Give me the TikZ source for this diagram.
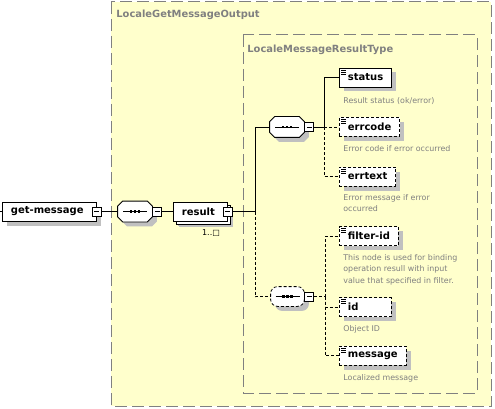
\documentclass[tikz,border=0pt]{standalone}
\usepackage{fontspec}
\setmainfont{DejaVu Sans}
\usetikzlibrary{shadows}
\definecolor{boxyellow}{RGB}{255,255,204}
\definecolor{labelgray}{RGB}{128,128,128}
\definecolor{shadegray}{RGB}{192,192,192}
\newcommand{\octpath}[1]{([xshift=5pt]#1.north west) -- ([xshift=-5pt]#1.north east)
    -- ([yshift=-5pt]#1.north east) -- ([yshift=5pt]#1.south east)
    -- ([xshift=-5pt]#1.south east) -- ([xshift=5pt]#1.south west)
    -- ([yshift=5pt]#1.south west) -- ([yshift=-5pt]#1.north west) -- cycle}
\newcommand{\dotrow}[1]{\draw[solid,sharp corners,black] ([xshift=-12pt]#1.center) -- ([xshift=12pt]#1.center);
    \foreach \d in {-4,0,4}
        \fill[black,sharp corners] ([xshift=\d pt]#1.center) +(-1.4pt,-1.4pt) rectangle +(1.4pt,1.4pt);}
\begin{document}
\begin{tikzpicture}[x=1pt,y=-1pt,
    every node/.append style={inner sep=0pt},
    line width=0.8pt,
    group/.style={draw=labelgray,fill=boxyellow,line width=1pt,dash pattern=on 12pt off 5pt},
    grouplabel/.style={anchor=west,text=labelgray,font=\bfseries\fontsize{9.9}{12}\selectfont},
    opt/.style={dash pattern=on 3pt off 2pt},
    shade/.style={drop shadow={shadow xshift=4.5pt,shadow yshift=-4.5pt,fill=shadegray,opacity=1}},
    elem/.style={draw,fill=white,shade,anchor=west,minimum height=19pt,minimum width=52pt,
        inner xsep=8.5pt,font=\bfseries\fontsize{10}{12}\selectfont},
    leaf/.style={elem,path picture={\foreach \k in {2,4,6}
        \draw[solid,line width=0.6pt] ([xshift=2pt,yshift=-\k pt]path picture bounding box.north west) -- ++(5pt,0);}},
    minus/.style={draw,solid,fill=white,minimum size=9pt,path picture={
        \draw[solid] ([xshift=2pt]path picture bounding box.west) -- ([xshift=-2pt]path picture bounding box.east);}},
    seqbox/.style={rectangle,minimum width=34pt,minimum height=20pt,
        append after command={\pgfextra{
            \fill[shadegray,transform canvas={xshift=4.5pt,yshift=-4.5pt}] \octpath{\tikzlastnode};
            \filldraw[fill=white] \octpath{\tikzlastnode};
            \dotrow{\tikzlastnode}}}},
    allbox/.style={rectangle,minimum width=33pt,minimum height=19pt,
        append after command={\pgfextra{
            \fill[shadegray,rounded corners=7pt,transform canvas={xshift=4.5pt,yshift=-4.5pt}]
                (\tikzlastnode.north west) rectangle (\tikzlastnode.south east);
            \filldraw[fill=white,opt,rounded corners=7pt]
                (\tikzlastnode.north west) rectangle (\tikzlastnode.south east);
            \dotrow{\tikzlastnode}}}},
    desc/.style={anchor=north west,align=left,text=labelgray,font=\fontsize{7.9}{11.5}\selectfont}]
    \useasboundingbox (0,0) rectangle (495,409);
    \draw[group] (111,2) rectangle (491,406);
    \node[grouplabel] (outerlabel) at (116,15) {LocaleGetMessageOutput};
    \draw[group] (243,35) rectangle (477,393);
    \node[grouplabel] (innerlabel) at (247,50) {LocaleMessageResultType};

    \coordinate (stub) at (0,211.5);
    \node[elem,text width=77pt,align=left] (get) at (2,211.5) {get-message};
    \node[minus] (getminus) at (get.east) {};
    \node[seqbox] (seqmain) at (135,211.5) {};
    \node[minus,anchor=west] (seqmainminus) at (seqmain.east) {};
    \node[elem,text width=37pt,align=left,minimum width=54pt,
        drop shadow={shadow xshift=6pt,shadow yshift=-6pt,fill=shadegray,opacity=1},
        copy shadow={shadow xshift=3pt,shadow yshift=-3pt}] (result) at (173,211.5) {result};
    \node[minus] (resultminus) at (result.east) {};
    \node[font=\fontsize{8}{10}\selectfont] (resultocc) at (211,233) {1..□};
    \draw (stub) -- (get.west);
    \draw (getminus.east) -- (seqmain.west);
    \draw (seqmainminus.east) -- (result.west);

    \coordinate (busA) at (255,211.5);
    \node[seqbox] (seqA) at (287,127) {};
    \node[minus,anchor=west] (seqAminus) at (seqA.east) {};
    \node[allbox] (seqB) at (287.5,296.5) {};
    \node[minus,anchor=west] (seqBminus) at (seqB.east) {};
    \draw (resultminus.east) -- (busA);
    \draw (busA) |- (seqA.west);
    \draw[opt] (busA) |- (seqB.west);

    \node[leaf] (status) at (339,77.5) {status};
    \node[desc] (statusdesc) at (343,97) {Result status (ok/error)};
    \node[leaf,opt] (errcode) at (339,127) {errcode};
    \node[desc] (errcodedesc) at (343,145) {Error code if error occurred};
    \node[leaf,opt] (errtext) at (339,176.5) {errtext};
    \node[desc] (errtextdesc) at (343,194) {Error message if error\\occurred};
    \coordinate (busB) at (324,127);
    \draw (seqAminus.east) -- (busB);
    \draw (busB) |- (status.west);
    \draw[opt] (busB) -- (errcode.west);
    \draw[opt] (busB) |- (errtext.west);

    \node[leaf,opt] (filterid) at (339,236) {filter-id};
    \node[desc] (filteriddesc) at (343,254) {This node is used for binding\\operation resull with input\\value that specified in filter.};
    \node[leaf,opt,text width=35pt,align=left] (id) at (339,307) {id};
    \node[desc] (iddesc) at (343,325) {Object ID};
    \node[leaf,opt] (message) at (339,355.5) {message};
    \node[desc] (messagedesc) at (343,374) {Localized message};
    \coordinate (busC) at (325,296.5);
    \draw[opt] (seqBminus.east) -- (busC);
    \draw[opt] (busC) |- (filterid.west);
    \draw[opt] (busC) |- (id.west);
    \draw[opt] (busC) |- (message.west);
\end{tikzpicture}
\end{document}
